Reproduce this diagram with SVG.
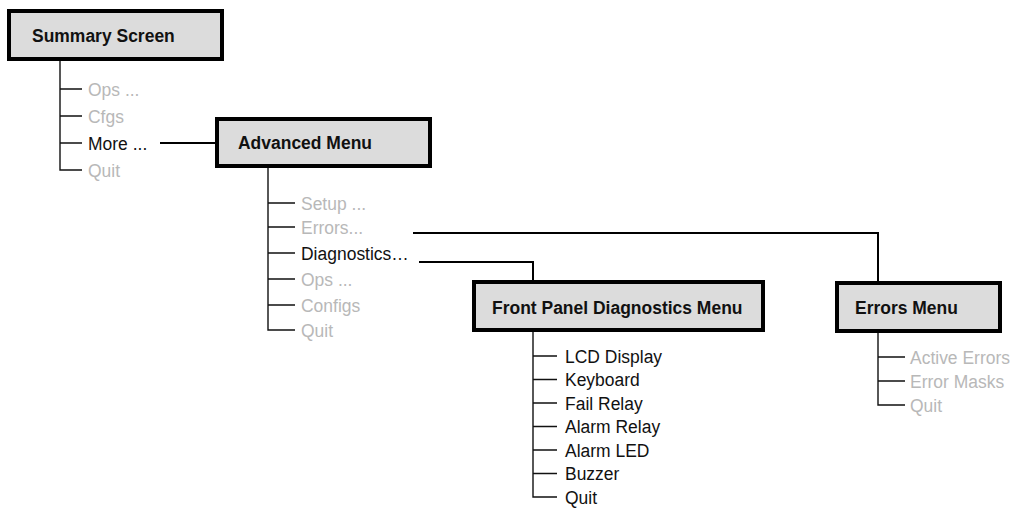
<svg xmlns="http://www.w3.org/2000/svg" width="1014" height="515" viewBox="0 0 1014 515">
<style>
.box{fill:#dcdcdc;stroke:#000;stroke-width:4}
.title{font-family:"Liberation Sans",Arial,sans-serif;font-weight:bold;font-size:19px;fill:#111}
.item{font-family:"Liberation Sans",Arial,sans-serif;font-size:19px;fill:#b8b8b8}
.on{fill:#111}
.tree{fill:none;stroke:#111;stroke-width:1.4}
.conn{fill:none;stroke:#000;stroke-width:2}
</style>
<rect width="1014" height="515" fill="#fff"/>
<g id="summary">
<rect class="box" x="9" y="11" width="213" height="48"/>
<text class="title" transform="translate(32,42) scale(.92 1)">Summary Screen</text>
<path class="tree" d="M60,61V170H82M60,89H82M60,116H82M60,143H82"/>
<text class="item" transform="translate(88,95.5) scale(.92 1)">Ops ...</text>
<text class="item" transform="translate(88,122.5) scale(.92 1)">Cfgs</text>
<text class="item on" transform="translate(88,149.5) scale(.92 1)">More ...</text>
<text class="item" transform="translate(88,176.5) scale(.92 1)">Quit</text>
</g>
<g id="advanced">
<rect class="box" x="217" y="119" width="213" height="47"/>
<text class="title" transform="translate(238,149) scale(.92 1)">Advanced Menu</text>
<path class="tree" d="M268,168V330H295M268,203H295M268,227H295M268,253H295M268,279H295M268,305H295"/>
<text class="item" transform="translate(301,209.5) scale(.92 1)">Setup ...</text>
<text class="item" transform="translate(301,233.5) scale(.92 1)">Errors...</text>
<text class="item on" transform="translate(301,259.5) scale(.92 1)">Diagnostics…</text>
<text class="item" transform="translate(301,285.5) scale(.92 1)">Ops ...</text>
<text class="item" transform="translate(301,311.5) scale(.92 1)">Configs</text>
<text class="item" transform="translate(301,336.5) scale(.92 1)">Quit</text>
</g>
<g id="frontpanel">
<rect class="box" x="474" y="282" width="289" height="48"/>
<text class="title" transform="translate(492,314) scale(.92 1)">Front Panel Diagnostics Menu</text>
<path class="tree" d="M533,332V497H557M533,356H557M533,379.5H557M533,403H557M533,426.5H557M533,450H557M533,473.5H557"/>
<text class="item on" transform="translate(565,362.5) scale(.92 1)">LCD Display</text>
<text class="item on" transform="translate(565,386) scale(.92 1)">Keyboard</text>
<text class="item on" transform="translate(565,409.5) scale(.92 1)">Fail Relay</text>
<text class="item on" transform="translate(565,433) scale(.92 1)">Alarm Relay</text>
<text class="item on" transform="translate(565,456.5) scale(.92 1)">Alarm LED</text>
<text class="item on" transform="translate(565,480) scale(.92 1)">Buzzer</text>
<text class="item on" transform="translate(565,503.5) scale(.92 1)">Quit</text>
</g>
<g id="errors">
<rect class="box" x="837" y="283" width="163" height="48"/>
<text class="title" transform="translate(855,314) scale(.92 1)">Errors Menu</text>
<path class="tree" d="M878,333V405H905M878,357H905M878,381H905"/>
<text class="item" transform="translate(910,363.5) scale(.92 1)">Active Errors</text>
<text class="item" transform="translate(910,387.5) scale(.92 1)">Error Masks</text>
<text class="item" transform="translate(910,411.5) scale(.92 1)">Quit</text>
</g>
<g id="connectors">
<path class="conn" d="M160,143H215"/>
<path class="conn" d="M413,233H878V281"/>
<path class="conn" d="M419,262H533V280"/>
</g>
</svg>
